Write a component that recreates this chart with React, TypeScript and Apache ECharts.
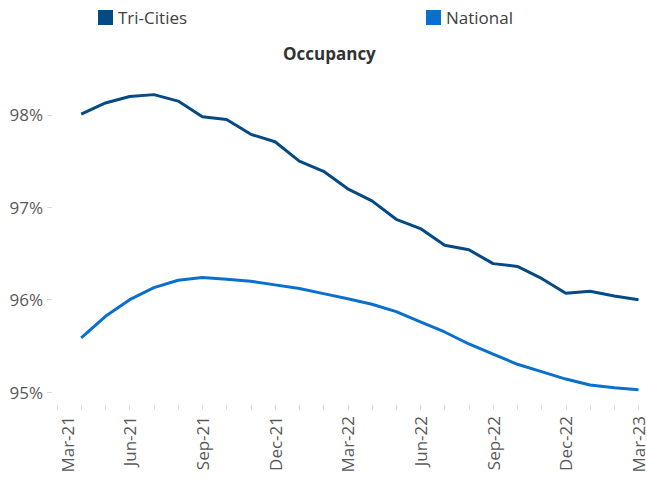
import React, { useEffect, useRef } from "react";
import * as echarts from "echarts";

const months = [
  "Mar-21", "Apr-21", "May-21", "Jun-21", "Jul-21", "Aug-21", "Sep-21", "Oct-21", "Nov-21",
  "Dec-21", "Jan-22", "Feb-22", "Mar-22", "Apr-22", "May-22", "Jun-22", "Jul-22", "Aug-22",
  "Sep-22", "Oct-22", "Nov-22", "Dec-22", "Jan-23", "Feb-23", "Mar-23",
];

const triCities = [
  null, 98.01, 98.13, 98.2, 98.22, 98.15, 97.98, 97.95, 97.79, 97.71, 97.5, 97.39, 97.2,
  97.07, 96.87, 96.77, 96.59, 96.54, 96.39, 96.36, 96.23, 96.07, 96.09, 96.04, 96.0,
];

const national = [
  null, 95.585, 95.82, 96.0, 96.13, 96.21, 96.24, 96.22, 96.2, 96.16, 96.12, 96.065, 96.01,
  95.95, 95.87, 95.76, 95.65, 95.52, 95.41, 95.3, 95.22, 95.14, 95.075, 95.045, 95.025,
];

const yTicks = [95, 96, 97, 98];

const FONT = "'Open Sans', 'Noto Sans', sans-serif";
const TRI_COLOR = "#044A84";
const NAT_COLOR = "#0A70CE";

export default function App() {
  const ref = useRef<HTMLDivElement>(null);

  useEffect(() => {
    document.body.style.margin = "0";
    if (!ref.current) return;
    const chart = echarts.init(ref.current, null, { renderer: "svg" });
    chart.setOption({
      animation: false,
      backgroundColor: "#ffffff",
      textStyle: { fontFamily: FONT },
      title: {
        text: "Occupancy",
        left: 283,
        top: 45,
        padding: 0,
        textStyle: { fontFamily: FONT, fontSize: 17, fontWeight: "bold", color: "#333333" },
      },
      legend: [
        {
          data: ["Tri-Cities"],
          left: 98,
          top: 9,
          padding: 0,
          icon: "rect",
          itemWidth: 15,
          itemHeight: 15,
          textStyle: { fontFamily: FONT, fontSize: 17, color: "#404040" },
        },
        {
          data: ["National"],
          left: 426,
          top: 9,
          padding: 0,
          icon: "rect",
          itemWidth: 15,
          itemHeight: 15,
          textStyle: { fontFamily: FONT, fontSize: 17, color: "#404040" },
        },
      ],
      grid: { left: 57, right: 8, top: 78, bottom: 88, containLabel: false },
      xAxis: {
        type: "category",
        data: months,
        boundaryGap: false,
        offset: 13,
        axisLine: { show: false },
        axisTick: { show: true, interval: 0, length: 5, lineStyle: { color: "#d9d9d9" } },
        axisLabel: {
          interval: 2,
          rotate: 90,
          margin: 11,
          fontFamily: FONT,
          fontSize: 17,
          lineHeight: 14,
          color: "#595959",
          formatter: (v: string, i: number) => (i === 0 ? `{first|${v}}` : v),
          rich: {
            first: {
              fontFamily: FONT,
              fontSize: 17,
              lineHeight: 14,
              color: "#595959",
              padding: [20, 0, 0, 0],
            },
          },
        },
        splitLine: { show: false },
      },
      yAxis: {
        type: "value",
        min: 95,
        max: 98.4,
        offset: 5,
        axisLine: { show: false },
        axisTick: { show: true, length: 5, customValues: yTicks, lineStyle: { color: "#d9d9d9" } },
        axisLabel: {
          customValues: yTicks,
          margin: 9,
          fontFamily: FONT,
          fontSize: 17,
          color: "#595959",
          formatter: (v: number) => `${Math.round(v)}%`,
        },
        splitLine: { show: false },
      },
      series: [
        {
          name: "Tri-Cities",
          type: "line",
          data: triCities,
          showSymbol: false,
          symbol: "none",
          color: TRI_COLOR,
          lineStyle: { width: 3, color: TRI_COLOR },
        },
        {
          name: "National",
          type: "line",
          data: national,
          showSymbol: false,
          symbol: "none",
          color: NAT_COLOR,
          lineStyle: { width: 3, color: NAT_COLOR },
        },
      ],
    });
    return () => chart.dispose();
  }, []);

  return <div ref={ref} style={{ width: 647, height: 480 }} />;
}
